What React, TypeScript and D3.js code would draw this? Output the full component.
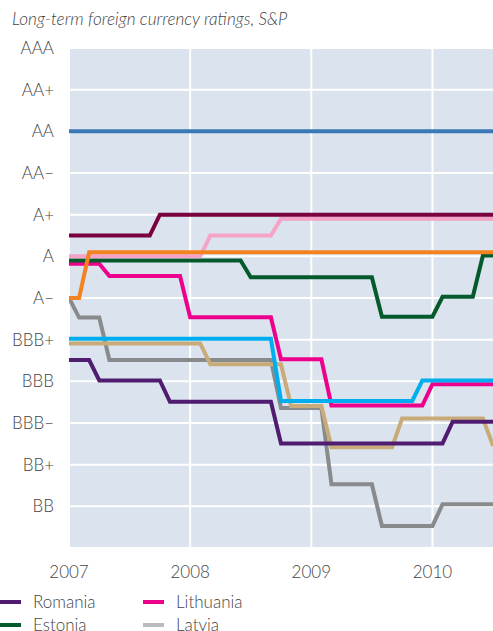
import React from "react";
import * as d3 from "d3";

const ratingLabels = ["BB–", "BB", "BB+", "BBB–", "BBB", "BBB+", "A–", "A", "A+", "AA–", "AA", "AA+", "AAA"];
const yearTicks = [2007, 2008, 2009, 2010];

// [month since Jan 2007, rating level (0 = BB–, 12 = AAA)]
const seriesAA: [number, number][] = [[0, 10], [42, 10]];
const seriesMaroon: [number, number][] = [[0, 7.5], [8, 7.5], [9, 8], [42, 8]];
const seriesPink: [number, number][] = [[0, 7], [13, 7], [14, 7.5], [20, 7.5], [21, 7.9], [42, 7.9]];
const seriesOrange: [number, number][] = [[0, 6], [1, 6], [2, 7.1], [42, 7.1]];
const seriesEstonia: [number, number][] = [[0, 6.9], [17, 6.9], [18, 6.5], [30, 6.5], [31, 5.55], [36, 5.55], [37, 6.03], [40, 6.03], [41, 7.02], [42, 7.02]];
const seriesLithuania: [number, number][] = [[0, 6.82], [3, 6.82], [4, 6.53], [11, 6.53], [12, 5.54], [20, 5.54], [21, 4.53], [25, 4.53], [26, 3.42], [35, 3.42], [36, 3.93], [42, 3.93]];
const seriesCyan: [number, number][] = [[0, 5.02], [20, 5.02], [21, 3.53], [34, 3.53], [35, 4.02], [42, 4.02]];
const seriesTan: [number, number][] = [[0, 4.91], [13, 4.91], [14, 4.41], [21, 4.41], [22, 3.41], [25, 3.41], [26, 2.42], [32, 2.42], [33, 3.11], [41, 3.11], [42, 2.45]];
const seriesLatvia: [number, number][] = [[0, 6], [1, 5.53], [3, 5.53], [4, 4.51], [20, 4.51], [21, 3.36], [25, 3.36], [26, 1.53], [30, 1.53], [31, 0.53], [36, 0.53], [37, 1.05], [42, 1.05]];
const seriesRomania: [number, number][] = [[0, 4.51], [2, 4.51], [3, 4.02], [9, 4.02], [10, 3.51], [20, 3.51], [21, 2.51], [37, 2.51], [38, 3.03], [42, 3.03]];

const drawOrder = [
  { data: seriesLatvia, color: "#898a8c" },
  { data: seriesTan, color: "#c9ab7a" },
  { data: seriesLithuania, color: "#ec008c" },
  { data: seriesCyan, color: "#00aeef" },
  { data: seriesRomania, color: "#4f1c70" },
  { data: seriesEstonia, color: "#045a2c" },
  { data: seriesPink, color: "#f5a3c7" },
  { data: seriesOrange, color: "#f58220" },
  { data: seriesMaroon, color: "#7a0040" },
  { data: seriesAA, color: "#3a79b5" },
];

const legendItems = [
  { name: "Romania", color: "#4f1c70", col: 0, row: 0 },
  { name: "Estonia", color: "#045a2c", col: 0, row: 1 },
  { name: "Lithuania", color: "#ec008c", col: 1, row: 0 },
  { name: "Latvia", color: "#b9babc", col: 1, row: 1 },
];

const W = 493;
const H = 631;
const left = 69;
const right = 493;
const top = 48;
const bottom = 548;
const font = "Lato, 'Open Sans', sans-serif";

export default function App() {
  const x = d3.scaleLinear().domain([2007, 2010.5]).range([left, right]);
  const y = d3.scaleLinear().domain([0, 12]).range([bottom, top]);
  const line = d3
    .line<[number, number]>()
    .x((d) => x(2007 + d[0] / 12))
    .y((d) => y(d[1]));

  return (
    <svg width={W} height={H} style={{ position: "absolute", left: 0, top: 0, background: "#fff" }} fontFamily={font}>
      <defs>
        <clipPath id="plotclip">
          <rect x={left} y={top} width={right - left} height={bottom - top} />
        </clipPath>
      </defs>
      <text x={12} y={25} fontSize={17.2} fontStyle="italic" fontWeight={300} fill="#444">
        Long-term foreign currency ratings, S&amp;P
      </text>
      <rect x={left} y={top} width={right - left} height={bottom - top} fill="#dae3ee" />
      {ratingLabels.map((_, i) => (
        <line key={"h" + i} x1={left} x2={right} y1={y(i)} y2={y(i)} stroke="#fff" strokeWidth={2} />
      ))}
      {yearTicks.map((t) => (
        <line key={"v" + t} x1={x(t)} x2={x(t)} y1={top} y2={bottom} stroke="#fff" strokeWidth={2} />
      ))}
      <g clipPath="url(#plotclip)">
        {drawOrder.map((s, i) => (
          <path key={i} d={line(s.data) || ""} fill="none" stroke={s.color} strokeWidth={4} strokeLinejoin="miter" />
        ))}
      </g>
      {ratingLabels.map((l, i) =>
        i === 0 ? null : (
          <text key={"yl" + i} x={54} y={y(i)} dy="0.35em" textAnchor="end" fontSize={17} fontWeight={300} fill="#444">
            {l}
          </text>
        )
      )}
      {yearTicks.map((t) => (
        <text key={"xl" + t} x={x(t)} y={572} dy="0.35em" textAnchor="middle" fontSize={17} fontWeight={300} fill="#444">
          {t}
        </text>
      ))}
      {legendItems.map((it) => {
        const sx = it.col === 0 ? 0 : 143;
        const cy = 602 + it.row * 23;
        return (
          <g key={it.name}>
            <line x1={sx} x2={sx + 21} y1={cy} y2={cy} stroke={it.color} strokeWidth={4} />
            <text x={sx + 33} y={cy} dy="0.35em" fontSize={17} fontWeight={300} fill="#444">
              {it.name}
            </text>
          </g>
        );
      })}
    </svg>
  );
}
